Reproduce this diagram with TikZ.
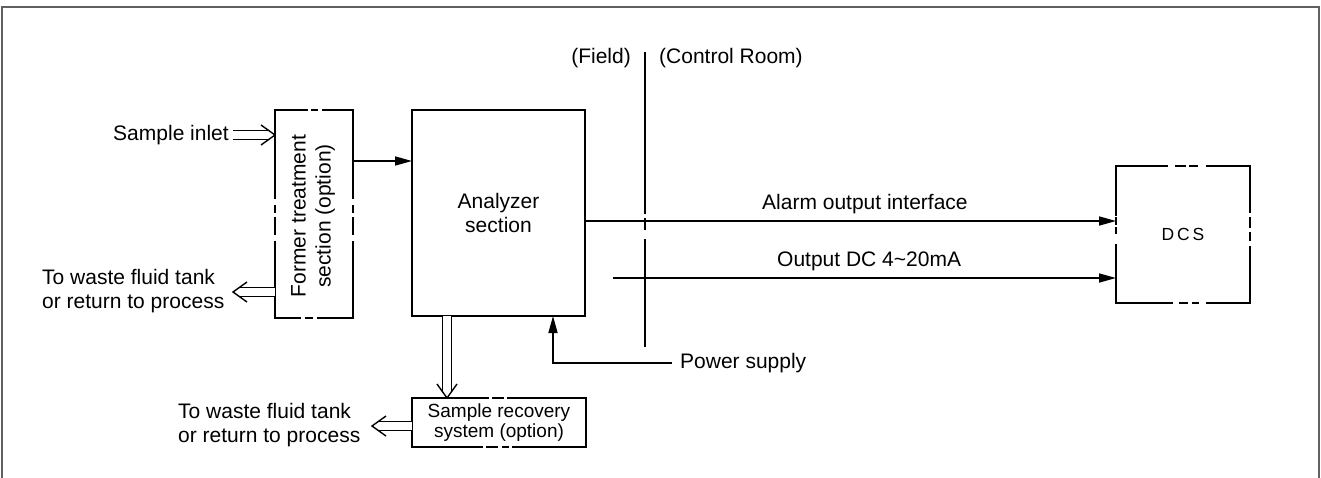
\documentclass[tikz,border=0pt]{standalone}
\usepackage{fontspec}
\setmainfont{Liberation Sans}
\usetikzlibrary{arrows.meta,calc}
\definecolor{framegray}{gray}{0.38}
% double-line flow arrow: #1 start, #2 tip, #3 unit vector from tip back to start, #4 perpendicular
\newcommand{\dblarrow}[4]{%
  \draw[dblline] (#1) -- ($(#2)+7*(#3)$);
  \draw[chev] ($(#2)+14*(#3)+10*(#4)$) -- (#2) -- ($(#2)+14*(#3)-10*(#4)$);}
\begin{document}
\begin{tikzpicture}[x=1pt,y=-1pt,
  txt/.style={font=\fontsize{21}{24}\selectfont, inner sep=0pt},
  boxnode/.style={inner sep=0pt, outer sep=0pt, draw=none},
  boxline/.style={line width=2.3pt, line cap=rect, line join=miter},
  conn/.style={line width=1.6pt},
  tip/.style={-{Triangle[length=17pt,width=9pt]}},
  dblline/.style={double=white, double distance=7.5pt, line width=1.4pt},
  chev/.style={line width=1.4pt, line join=miter},
]
\useasboundingbox (0,0) rectangle (1321,477);
\draw[framegray, line width=2.5pt] (2,480) -- (2,7) -- (1319,7) -- (1319,480);

% boxes
\node[boxnode, minimum width=78pt, minimum height=208pt] (ft) at (314,214) {};
\node[txt, rotate=90, align=center, font=\fontsize{21}{25}\selectfont] (ftt) at (313,216) {Former treatment\\section (option)};
\draw[boxline, dash pattern=on 32pt off 5pt on 5pt off 6pt on 118pt off 8pt on 6pt off 6pt on 16pt off 8pt on 111pt off 6pt on 6pt off 6pt on 101pt off 8pt on 16pt off 6pt on 6pt off 8pt on 88pt]
  (ft.north west) -- (ft.north east) -- (ft.south east) -- (ft.south west) -- cycle;

\node[boxnode, draw, line width=2.3pt, minimum width=173pt, minimum height=206pt, txt, align=center] (an) at (498.5,213) {Analyzer\\section};

\node[boxnode, minimum width=134pt, minimum height=137pt, font=\fontsize{17.5}{19}\selectfont] (dcs) at (1183,234.5) {\raisebox{-7pt}{D\,C\,S}};
\draw[boxline, dash pattern=on 51pt off 9pt on 9pt off 5pt on 7pt off 10pt on 89pt off 6pt on 9pt off 6pt on 7pt off 7pt on 99pt off 9pt on 5pt off 6pt on 7pt off 8pt on 114pt off 12pt on 5pt off 4pt on 6pt off 3pt on 49pt]
  (dcs.north west) -- (dcs.north east) -- (dcs.south east) -- (dcs.south west) -- cycle;

\node[boxnode, minimum width=174pt, minimum height=49pt, font=\fontsize{19}{20.5}\selectfont, align=center] (sr) at (499,422.5) {Sample recovery\\system (option)};
\draw[boxline, dash pattern=on 76pt off 5pt on 10pt off 5pt on 200pt off 5pt on 5pt off 6pt on 10pt off 5pt on 119pt]
  (sr.north west) -- (sr.north east) -- (sr.south east) -- (sr.south west) -- cycle;

% field / control room divider
\coordinate (divtop) at (645,52);
\coordinate (divbot) at (645,347);
\draw[conn, dash pattern=on 162pt off 4pt on 12pt off 9pt on 108pt] (divtop) -- (divbot);
\node[txt, anchor=east] (field) at (631,58) {(Field)};
\node[txt, anchor=west] (room) at (659,58) {(Control Room)};

% signal lines
\draw[conn, tip] ($(ft.north east)+(0,51)$) -- ($(an.north west)+(0,51)$);
\draw[conn, tip] ($(an.north east)+(0,111)$) -- ($(dcs.north west)+(0,55)$);
\node[txt, anchor=west] (alarm) at (762,204) {Alarm output interface};
\coordinate (outstart) at (613,278);
\draw[conn, tip] (outstart) -- ($(dcs.north west)+(0,112)$);
\node[txt, anchor=west] (outl) at (777,261) {Output DC 4\textasciitilde 20mA};
\node[txt, anchor=west] (ps) at (680,363) {Power supply};
\draw[conn, tip] ($(ps.west)+(-8,0)$) -| ($(an.south west)+(141,0)$);

% sample flows
\node[txt, anchor=east] (si) at (229,135) {Sample inlet};
\coordinate (siS) at ($(si.east)+(4,0)$);
\coordinate (siT) at ($(ft.north west)+(0,25)$);
\dblarrow{siS}{siT}{-1,0}{0,1}

\node[txt, anchor=west, align=left] (w1) at (42,291) {To waste fluid tank\\or return to process};
\coordinate (w1S) at ($(ft.north west)+(0,182)$);
\coordinate (w1T) at ($(ft.north west)+(-42,182)$);
\dblarrow{w1S}{w1T}{1,0}{0,1}

\coordinate (vS) at ($(an.south west)+(35,0)$);
\coordinate (vT) at ($(sr.north west)+(35,0)$);
\dblarrow{vS}{vT}{0,-1}{1,0}

\node[txt, anchor=west, align=left] (w2) at (178,425) {To waste fluid tank\\or return to process};
\coordinate (w2S) at ($(sr.west)+(0,3.5)$);
\coordinate (w2T) at ($(sr.west)+(-40,3.5)$);
\dblarrow{w2S}{w2T}{1,0}{0,1}
\end{tikzpicture}
\end{document}
